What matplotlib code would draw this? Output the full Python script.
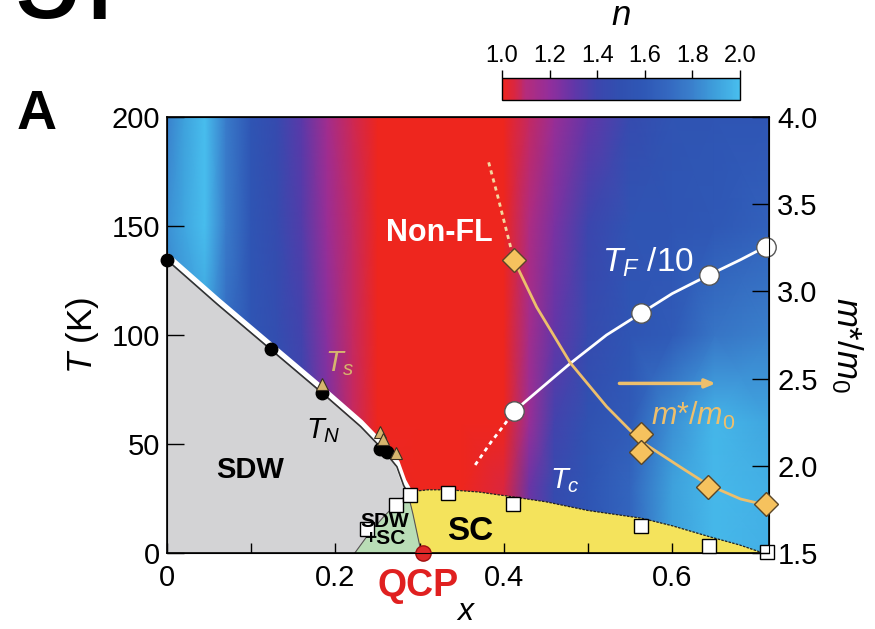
import numpy as np
import matplotlib
matplotlib.use("Agg")
import matplotlib.pyplot as plt
from matplotlib.colors import LinearSegmentedColormap, Normalize
from matplotlib.cm import ScalarMappable
from matplotlib.transforms import blended_transform_factory

plt.rcParams['font.family'] = ['Liberation Sans', 'DejaVu Sans']
plt.rcParams['mathtext.fontset'] = 'custom'
plt.rcParams['mathtext.rm'] = 'Liberation Sans'
plt.rcParams['mathtext.it'] = 'Liberation Sans:italic'
plt.rcParams['mathtext.bf'] = 'Liberation Sans:bold'

# resistivity exponent n(x, T)
n_x = [0.0, 0.02, 0.045, 0.07, 0.10, 0.13, 0.16, 0.19, 0.22, 0.25,
       0.30, 0.35, 0.40, 0.43, 0.46, 0.50, 0.55, 0.60, 0.65, 0.715]
n_T = [0, 30, 60, 100, 150, 200]
n_row_0 = [1.70, 1.70, 1.70, 1.65, 1.60, 1.50, 1.38, 1.22, 1.08, 1.02, 1.00, 1.00, 1.05, 1.28, 1.45, 1.56, 1.68, 1.90, 1.98, 1.95]
n_row_30 = [1.70, 1.70, 1.70, 1.65, 1.60, 1.50, 1.38, 1.22, 1.08, 1.02, 1.00, 1.00, 1.05, 1.28, 1.45, 1.56, 1.68, 1.90, 1.98, 1.95]
n_row_60 = [1.75, 1.75, 1.75, 1.70, 1.60, 1.50, 1.40, 1.25, 1.08, 1.00, 1.00, 1.00, 1.00, 1.18, 1.38, 1.52, 1.62, 1.85, 1.97, 1.92]
n_row_100 = [1.80, 1.85, 1.90, 1.72, 1.56, 1.48, 1.38, 1.22, 1.08, 1.00, 1.00, 1.00, 1.00, 1.15, 1.30, 1.45, 1.56, 1.62, 1.75, 1.80]
n_row_150 = [1.85, 1.92, 2.00, 1.78, 1.56, 1.46, 1.34, 1.18, 1.08, 1.00, 1.00, 1.00, 1.00, 1.12, 1.25, 1.40, 1.55, 1.57, 1.60, 1.66]
n_row_200 = [1.80, 1.90, 2.00, 1.78, 1.56, 1.45, 1.32, 1.16, 1.07, 1.00, 1.00, 1.00, 1.00, 1.08, 1.18, 1.30, 1.45, 1.55, 1.57, 1.58]

# T_N (black dots) and T_s (triangles)
tn_x = [0.0, 0.123, 0.184, 0.253, 0.261]
tn_T = [134.4, 93.4, 73.5, 47.6, 46.5]
ts_x = [0.184, 0.253, 0.256, 0.272]
ts_T = [77.4, 55.6, 52.5, 45.7]

# T_c (squares)
tc_x = [0.2375, 0.272, 0.288, 0.334, 0.411, 0.563, 0.644, 0.712]
tc_T = [11.0, 22.0, 26.8, 27.7, 22.5, 12.6, 3.4, 0.4]

# T_F / 10 (circles, left axis)
tf_x = [0.412, 0.563, 0.644, 0.711]
tf_T = [65.0, 110.0, 127.4, 140.5]

# m*/m0 (diamonds, right axis)
mass_x = [0.412, 0.563, 0.563, 0.643, 0.711]
mass_m = [3.18, 2.18, 2.08, 1.88, 1.78]

# phase boundaries and guide lines
sdw_x = [0.0, 0.06, 0.123, 0.184, 0.23, 0.257, 0.273, 0.281, 0.286]
sdw_T = [134.4, 114.0, 93.4, 73.5, 58.0, 47.2, 39.6, 31.0, 27.5]
mix_x = [0.223, 0.24, 0.258, 0.274, 0.286]
mix_T = [0.0, 9.0, 17.0, 23.0, 27.5]
scl_x = [0.286, 0.292, 0.297, 0.302]
scl_T = [27.5, 18.0, 9.0, 0.0]
dome_x = [0.286, 0.31, 0.334, 0.37, 0.41, 0.45, 0.50, 0.563, 0.60, 0.644, 0.68, 0.708]
dome_T = [28.0, 29.0, 29.0, 28.0, 25.8, 23.5, 19.5, 16.0, 12.5, 7.5, 3.7, 0.0]
tf_fit_x = [0.412, 0.45, 0.479, 0.522, 0.563, 0.60, 0.643, 0.681, 0.711]
tf_fit_T = [65.0, 77.5, 87.0, 100.0, 110.0, 119.0, 127.4, 134.5, 140.5]
tf_ext_x = [0.366, 0.385, 0.40, 0.412]
tf_ext_T = [40.4, 51.0, 58.5, 65.0]
m_fit_x = [0.412, 0.439, 0.479, 0.522, 0.563, 0.609, 0.643, 0.681, 0.711]
m_fit = [3.18, 2.91, 2.59, 2.34, 2.14, 1.995, 1.89, 1.81, 1.775]
m_ext_x = [0.382, 0.392, 0.402, 0.412]
m_ext = [3.74, 3.56, 3.37, 3.18]

orange = '#EDBF6C'
cmap = LinearSegmentedColormap.from_list('n_map', [
    (0.0, '#EE261E'), (0.05, '#DA2640'), (0.1, '#B42C7C'), (0.2, '#922E9C'), (0.3, '#6236A8'),
    (0.4, '#3C46AE'), (0.5, '#3050B0'), (0.6, '#2F58B6'), (0.7, '#3468C0'),
    (0.8, '#3A80CC'), (0.9, '#3EA0DC'), (1.0, '#48BEEE')])
norm = Normalize(1.0, 2.0)

fig = plt.figure(figsize=(8.75, 6.29), dpi=100)
ax = fig.add_axes([0.1909, 0.1208, 0.688, 0.6932])

X, Y = np.meshgrid(n_x, n_T)
n_grid = np.array([n_row_0, n_row_30, n_row_60, n_row_100, n_row_150, n_row_200])
ax.pcolormesh(X, Y, n_grid, cmap=cmap, norm=norm, shading='gouraud', zorder=0)

# SDW, SDW+SC and SC regions
ax.fill([0.0] + sdw_x + mix_x[::-1] + [0.0], [0.0] + sdw_T + mix_T[::-1] + [0.0],
        color='#D3D3D5', zorder=1, lw=0)
ax.fill(mix_x + scl_x, mix_T + scl_T, color='#B9DDB6', zorder=1, lw=0)
ax.fill(scl_x[::-1] + dome_x, scl_T[::-1] + dome_T, color='#F4E35C', zorder=1, lw=0)
ax.plot(mix_x, mix_T, color='#555555', lw=0.8, zorder=2)
ax.plot(scl_x, scl_T, color='#555555', lw=0.8, zorder=2)
ax.plot(dome_x, dome_T, color='#222222', lw=0.9, ls=(0, (2, 1)), zorder=2)

# T_s white band over T_N line
ax.plot(sdw_x, np.array(sdw_T) + 2.0, color='white', lw=4, zorder=2, solid_capstyle='round')
ax.plot(sdw_x, sdw_T, color='#333333', lw=1.2, zorder=3)

ax.plot(tn_x, tn_T, 'o', color='black', ms=9, zorder=5, clip_on=False)
ax.plot(ts_x, ts_T, '^', color='#D6B56E', mec='#3A3020', mew=0.8, ms=9, zorder=6)
ax.plot(tc_x, tc_T, 's', color='white', mec='black', mew=1, ms=10, zorder=6, clip_on=False)

# T_F / 10
ax.plot(tf_fit_x, tf_fit_T, color='white', lw=2, zorder=4)
ax.plot(tf_ext_x, tf_ext_T, color='white', lw=2, ls=(0, (1.5, 1.5)), zorder=4)
ax.plot(tf_x, tf_T, 'o', color='white', mec='#555555', mew=1, ms=14, zorder=6, clip_on=False)

ax.annotate('', xy=(0.655, 77.8), xytext=(0.534, 77.8),
            arrowprops=dict(arrowstyle='-|>,head_width=0.25,head_length=0.6', color=orange, lw=2.5))

# QCP
ax.plot([0.304], [0.0], 'o', color='#E02828', mec='#A01010', ms=11, zorder=8, clip_on=False)

ax.set_xlim(0, 0.715)
ax.set_ylim(0, 200)
ax.set_xticks([0, 0.2, 0.4, 0.6])
ax.set_xticklabels(['0', '0.2', '0.4', '0.6'])
ax.set_xticks([0.1, 0.3, 0.5], minor=True)
ax.set_yticks([0, 50, 100, 150, 200])
ax.tick_params(axis='x', which='both', direction='in', length=7, width=1, labelsize=21, pad=8)
ax.tick_params(axis='y', direction='in', length=12, width=1, labelsize=21, pad=5)
for s in ax.spines.values():
    s.set_linewidth(1.2)

ax.set_xlabel('$x$', fontsize=23)
ax.xaxis.label.set_va('center')
ax.xaxis.set_label_coords(0.497, -0.135)
ax.set_ylabel('$T$ (K)', fontsize=25)
ax.yaxis.label.set_va('center')
ax.yaxis.set_label_coords(-0.14, 0.5)

# right axis: m*/m0
ax2 = ax.twinx()
ax2.set_ylim(1.5, 4.0)
ax2.plot(m_fit_x, m_fit, color=orange, lw=2, zorder=3)
ax2.plot(m_ext_x, m_ext, color='#F4D8A0', lw=2, ls=(0, (1.5, 1.5)), zorder=3)
ax2.plot(mass_x, mass_m, 'D', color='#F6C25E', mec='#5A4628', mew=1, ms=12, zorder=6, clip_on=False)
ax2.set_yticks([1.5, 2.0, 2.5, 3.0, 3.5, 4.0])
ax2.set_yticklabels(['1.5', '2.0', '2.5', '3.0', '3.5', '4.0'])
ax2.tick_params(axis='y', direction='in', length=12, width=1, labelsize=21, pad=6)
ax2.set_ylabel('$m{*}/m_0$', fontsize=25, rotation=270)
ax2.yaxis.label.set_va('center')
ax2.yaxis.set_label_coords(1.13, 0.477)

# labels inside the diagram
ax.text(0.324, 147, 'Non-FL', color='white', fontsize=22, fontweight='bold', ha='center', va='center', zorder=9)
ax.text(0.099, 38, 'SDW', color='black', fontsize=21, fontweight='bold', ha='center', va='center', zorder=9)
ax.text(0.36, 10, 'SC', color='black', fontsize=24, fontweight='bold', ha='center', va='center', zorder=9)
ax.text(0.259, 10.5, 'SDW\n+SC', color='black', fontsize=15, fontweight='bold', ha='center', va='center',
        linespacing=0.85, zorder=9)
ax.text(0.185, 56, '$T_N$', color='black', fontsize=21, ha='center', va='center', zorder=9)
ax.text(0.205, 87, '$T_s$', color='#D6B56E', fontsize=21, ha='center', va='center', zorder=9)
ax.text(0.473, 33, '$T_c$', color='white', fontsize=21, ha='center', va='center', zorder=9)
ax.text(0.571, 133.5, '$T_F$ /10', color='white', fontsize=24, ha='center', va='center', zorder=9)
ax.text(0.625, 63, '$m{*}/m_0$', color=orange, fontsize=22, ha='center', va='center', zorder=9)
trans = blended_transform_factory(ax.transData, ax.transAxes)
ax.text(0.298, -0.076, 'QCP', color='#E02020', fontsize=27, fontweight='bold', ha='center', va='center',
        transform=trans)

# colour bar for n
cax = fig.add_axes([0.5737, 0.841, 0.272, 0.035])
cb = fig.colorbar(ScalarMappable(norm=norm, cmap=cmap), cax=cax, orientation='horizontal')
cb.set_ticks([1.0, 1.2, 1.4, 1.6, 1.8, 2.0])
cb.set_ticklabels(['1.0', '1.2', '1.4', '1.6', '1.8', '2.0'])
cax.xaxis.set_ticks_position('top')
cax.tick_params(direction='out', length=6, width=1, labelsize=17, pad=2)
cb.outline.set_linewidth(1)
fig.text(0.71, 0.975, '$n$', fontsize=25, ha='center', va='center')

fig.text(0.042, 0.817, 'A', fontsize=40, fontweight='bold', ha='center', va='center')
fig.text(0.0103, 1.0143, 'gp', fontsize=98, ha='left', va='baseline')

fig.savefig('out.png', dpi=100)
